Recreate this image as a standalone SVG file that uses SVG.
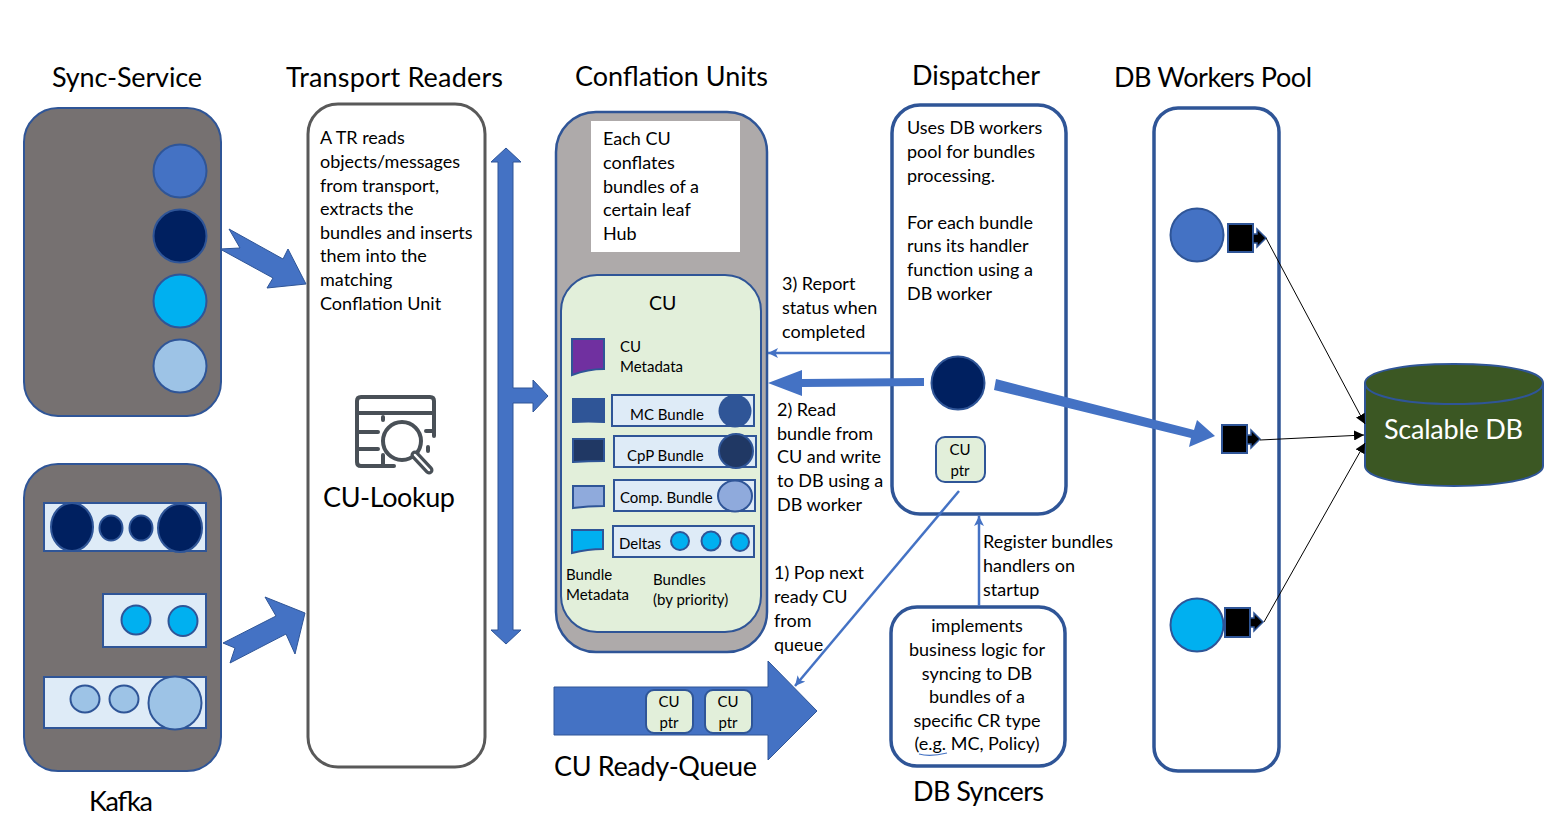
<svg xmlns="http://www.w3.org/2000/svg" width="1557" height="826" viewBox="0 0 1557 826">
<style>
text{font-family:Lato,"Liberation Sans",sans-serif;fill:#000}
.t{font-size:27px}
.b{font-size:18px}
.s{font-size:15px}
.k{stroke:#2f5597;stroke-width:2}
.bar{fill:#deebf7;stroke:#2f5597;stroke-width:2}
.frame{fill:#fff;stroke:#2f5597;stroke-width:3.5}
.ar{fill:#4472c4;stroke:#2f5597;stroke-width:1}
.ptr{fill:#e2efda;stroke:#2f5597;stroke-width:2}
.ln{stroke:#4472c4;fill:none}
.bl{stroke:#000;stroke-width:1;fill:none}
.sq{fill:#000;stroke:#2f5597;stroke-width:2}
.ic{fill:none;stroke:#495057;stroke-width:4;stroke-linecap:round}
</style>
<defs>
<marker id="ah" markerUnits="userSpaceOnUse" markerWidth="12" markerHeight="10" refX="10" refY="5" orient="auto"><path d="M0 0L10 5L0 10L2.5 5Z" fill="#4472c4"/></marker>
<marker id="bh" markerUnits="userSpaceOnUse" markerWidth="12" markerHeight="10" refX="10" refY="5" orient="auto"><path d="M0 0L10 5L0 10Z" fill="#000"/></marker>
</defs>
<rect width="1557" height="826" fill="#fff"/>

<g id="titles" class="titles">
<text class="t" x="52" y="87" textLength="150">Sync-Service</text>
<text class="t" x="286" y="87" textLength="217">Transport Readers</text>
<text class="t" x="575" y="86" textLength="193">Conflation Units</text>
<text class="t" x="912" y="85" textLength="128">Dispatcher</text>
<text class="t" x="1114" y="87" textLength="198">DB Workers Pool</text>
<text class="t" x="89" y="811" textLength="64">Kafka</text>
<text class="t" x="554" y="776" textLength="203">CU Ready-Queue</text>
<text class="t" x="913" y="801" textLength="131">DB Syncers</text>
</g>

<g id="sync-service">
<rect x="24" y="108" width="197" height="308" rx="34" fill="#767171" class="k"/>
<circle cx="180" cy="171" r="26.5" fill="#4472c4" class="k"/>
<circle cx="180" cy="236" r="26.5" fill="#002060" class="k"/>
<circle cx="180" cy="301" r="26.5" fill="#00b0f0" class="k"/>
<circle cx="180" cy="366" r="26.5" fill="#9dc3e6" class="k"/>
</g>

<g id="kafka">
<rect x="24" y="464" width="197" height="307" rx="34" fill="#767171" class="k"/>
<rect x="44" y="503" width="162" height="48" class="bar"/>
<ellipse cx="72" cy="527" rx="21" ry="24" fill="#002060" class="k"/>
<ellipse cx="111" cy="528" rx="11.5" ry="12.5" fill="#002060" class="k"/>
<ellipse cx="141" cy="528" rx="11.5" ry="12.5" fill="#002060" class="k"/>
<ellipse cx="180" cy="528" rx="22" ry="24" fill="#002060" class="k"/>
<rect x="103" y="594" width="103" height="53" class="bar"/>
<ellipse cx="136" cy="620" rx="14.5" ry="14.5" fill="#00b0f0" class="k"/>
<ellipse cx="183" cy="621" rx="14.5" ry="15" fill="#00b0f0" class="k"/>
<rect x="44" y="677" width="162" height="51" class="bar"/>
<ellipse cx="85" cy="699" rx="14.5" ry="13.5" fill="#9dc3e6" class="k"/>
<ellipse cx="124" cy="699" rx="14.5" ry="13.5" fill="#9dc3e6" class="k"/>
<circle cx="175" cy="703" r="26.5" fill="#9dc3e6" class="k"/>
</g>

<g id="transport-readers">
<rect x="308" y="104" width="177" height="663" rx="30" fill="#fff" stroke="#595959" stroke-width="3"/>
<text class="b"><tspan x="320" y="144">A TR reads</tspan><tspan x="320" y="168">objects/messages</tspan><tspan x="320" y="192">from transport,</tspan><tspan x="320" y="215">extracts the</tspan><tspan x="320" y="239">bundles and inserts</tspan><tspan x="320" y="262">them into the</tspan><tspan x="320" y="286">matching</tspan><tspan x="320" y="310">Conflation Unit</tspan></text>
<g id="cu-lookup-icon">
<path class="ic" d="M394 466H361Q357 466 357 462V401Q357 397 361 397H430Q434 397 434 401V436M357 413H434M357 432H378M357 449H378M383 417V420M383 455V466M426 431H433M428 447V451"/>
<circle cx="402" cy="441" r="19" class="ic"/>
<path d="M415 455L429 470" stroke="#495057" stroke-width="9" stroke-linecap="round"/>
<path d="M415 455L429 470" stroke="#fff" stroke-width="2.5" stroke-linecap="round"/>
</g>
<text x="323" y="507" style="font-size:27px" textLength="132">CU-Lookup</text>
</g>

<g id="conflation-units">
<rect x="556" y="112" width="211" height="540" rx="40" fill="#aeaaaa" stroke="#2f5597" stroke-width="2.5"/>
<rect x="591" y="121" width="149" height="131" fill="#fff"/>
<text class="b"><tspan x="603" y="145">Each CU</tspan><tspan x="603" y="169">conflates</tspan><tspan x="603" y="193">bundles of a</tspan><tspan x="603" y="216">certain leaf</tspan><tspan x="603" y="240">Hub</tspan></text>
</g>

<g id="cu">
<rect x="561" y="275" width="200" height="357" rx="36" fill="#e2efda" stroke="#2f5597" stroke-width="2"/>
<text x="649" y="310" style="font-size:19.5px">CU</text>
<path d="M572 339H604V369Q588 369 572 375Z" fill="#7030a0" stroke="#2f5597" stroke-width="2"/>
<text class="s"><tspan x="620" y="352">CU</tspan><tspan x="620" y="372">Metadata</tspan></text>
<path d="M573 399H604V422Q588 421 573 422Z" fill="#2f5597" stroke="#2f5597" stroke-width="2"/>
<rect x="612" y="395" width="142" height="31" class="bar"/>
<circle cx="735" cy="411" r="16.5" fill="#2f5597"/>
<text class="s" x="630" y="420">MC Bundle</text>
<path d="M573 439H604V461Q588 461 573 462Z" fill="#203864" stroke="#2f5597" stroke-width="2"/>
<rect x="614" y="436" width="142" height="31" class="bar"/>
<circle cx="736" cy="451" r="17" fill="#203864" stroke="#2f5597" stroke-width="2"/>
<text class="s" x="627" y="461">CpP Bundle</text>
<path d="M573 486H604V506Q588 506 573 508Z" fill="#8faadc" stroke="#2f5597" stroke-width="2"/>
<rect x="614" y="480" width="141" height="31" class="bar"/>
<ellipse cx="735" cy="496" rx="17" ry="15.5" fill="#8faadc" class="k"/>
<text class="s" x="620" y="503">Comp. Bundle</text>
<path d="M572 530H603V549Q588 549 572 553Z" fill="#00b0f0" stroke="#2f5597" stroke-width="2"/>
<rect x="613" y="526" width="141" height="31" class="bar"/>
<circle cx="680" cy="541" r="9" fill="#00b0f0" class="k"/>
<circle cx="711" cy="541" r="9.5" fill="#00b0f0" class="k"/>
<circle cx="740" cy="542" r="9" fill="#00b0f0" class="k"/>
<text class="s" x="619" y="549">Deltas</text>
<text class="s"><tspan x="566" y="580">Bundle</tspan><tspan x="566" y="600">Metadata</tspan></text>
<text class="s"><tspan x="653" y="585">Bundles</tspan><tspan x="653" y="605">(by priority)</tspan></text>
</g>

<g id="dispatcher">
<rect x="892" y="105" width="174" height="409" rx="28" class="frame"/>
<text class="b"><tspan x="907" y="134">Uses DB workers</tspan><tspan x="907" y="158">pool for bundles</tspan><tspan x="907" y="182">processing.</tspan><tspan x="907" y="229">For each bundle</tspan><tspan x="907" y="252">runs its handler</tspan><tspan x="907" y="276">function using a</tspan><tspan x="907" y="300">DB worker</tspan></text>
<circle cx="958" cy="383" r="26.5" fill="#002060" class="k"/>
<rect x="936" y="437" width="49" height="45" rx="9" class="ptr"/>
<text class="s" text-anchor="middle" x="960" y="455">CU</text>
<text class="s" text-anchor="middle" x="960" y="476">ptr</text>
</g>

<g id="db-syncers">
<rect x="891" y="607" width="174" height="159" rx="26" class="frame"/>
<text class="b" text-anchor="middle"><tspan x="977" y="632">implements</tspan><tspan x="977" y="656">business logic for</tspan><tspan x="977" y="680">syncing to DB</tspan><tspan x="977" y="703">bundles of a</tspan><tspan x="977" y="727">specific CR type</tspan><tspan x="977" y="750">(e.g. MC, Policy)</tspan></text>
<path d="M919 754Q930 757 947 753" stroke="#4472c4" stroke-width="1.2" fill="none"/>
</g>

<g id="db-workers-pool">
<rect x="1154" y="108" width="125" height="663" rx="24" class="frame"/>
<circle cx="1197" cy="235" r="26.5" fill="#4472c4" class="k"/>
<circle cx="1197" cy="625" r="26.5" fill="#00b0f0" class="k"/>
</g>

<g id="scalable-db">
<path d="M1365 383V466C1365 477 1400 486 1454 486S1543 477 1543 466V383C1543 372 1508 364 1454 364S1365 372 1365 383Z" fill="#3b5723" stroke="#2f5597" stroke-width="2"/>
<path d="M1365 383C1365 395 1400 404 1454 404S1543 395 1543 383" fill="none" stroke="#2f5597" stroke-width="2"/>
<text x="1384" y="439" style="font-size:27px;fill:#fff" textLength="139">Scalable DB</text>
</g>

<g id="connectors">
<path class="ar" d="M220 249L240 248L229 229L283 259L288 249L306 284L267 288L273 278Z"/>
<path class="ar" d="M223 643L235 648L230 663L286 634L295 654L305 613L265 597L276 616Z"/>
<path class="ar" d="M506 148L521 162H513V388H533V380L548 396L533 412V403H513V630H521L506 644L491 630H498V162H491Z" stroke-width="2"/>
<path class="ln" stroke-width="2.5" d="M891 353H768" marker-end="url(#ah)"/>
<path fill="#4472c4" d="M924 378L924 386L802 387V396L768 383L802 370V379Z"/>
<path fill="#4472c4" d="M996 379L1194 430L1197 420L1215 436L1189 447L1191 438L994 390Z"/>
<path class="ln" stroke-width="2.5" d="M959 491L795 686" marker-end="url(#ah)"/>
<path class="ln" stroke-width="2.5" d="M979 606V516" marker-end="url(#ah)"/>
<g id="queue">
<path class="ar" d="M554 687H768V661L817 711L768 760V735H554Z"/>
<rect x="646" y="690" width="47" height="43" rx="8" class="ptr"/>
<rect x="705" y="690" width="47" height="43" rx="8" class="ptr"/>
<text class="s" text-anchor="middle"><tspan x="669" y="707">CU</tspan><tspan x="669" y="728">ptr</tspan><tspan x="728" y="707">CU</tspan><tspan x="728" y="728">ptr</tspan></text>
</g>
<rect x="1228" y="224" width="25" height="28" class="sq"/>
<path d="M1253 234H1257V229L1266 238L1257 247V243H1253Z" fill="#000" stroke="#2f5597" stroke-width="1.5"/>
<rect x="1222" y="425" width="25" height="28" class="sq"/>
<path d="M1247 435H1251V430L1260 439L1251 448V444H1247Z" fill="#000" stroke="#2f5597" stroke-width="1.5"/>
<rect x="1225" y="608" width="25" height="29" class="sq"/>
<path d="M1250 618H1254V613L1263 622L1254 631V627H1250Z" fill="#000" stroke="#2f5597" stroke-width="1.5"/>
<path class="bl" d="M1266 238L1365 424" marker-end="url(#bh)"/>
<path class="bl" d="M1260 440L1364 435" marker-end="url(#bh)"/>
<path class="bl" d="M1264 622L1365 443" marker-end="url(#bh)"/>
</g>

<g id="labels">
<text class="b"><tspan x="782" y="290">3) Report</tspan><tspan x="782" y="314">status when</tspan><tspan x="782" y="338">completed</tspan></text>
<text class="b"><tspan x="777" y="416">2) Read</tspan><tspan x="777" y="440">bundle from</tspan><tspan x="777" y="463">CU and write</tspan><tspan x="777" y="487">to DB using a</tspan><tspan x="777" y="511">DB worker</tspan></text>
<text class="b"><tspan x="774" y="579">1) Pop next</tspan><tspan x="774" y="603">ready CU</tspan><tspan x="774" y="627">from</tspan><tspan x="774" y="651">queue</tspan></text>
<text class="b"><tspan x="983" y="548">Register bundles</tspan><tspan x="983" y="572">handlers on</tspan><tspan x="983" y="596">startup</tspan></text>
</g>
</svg>
